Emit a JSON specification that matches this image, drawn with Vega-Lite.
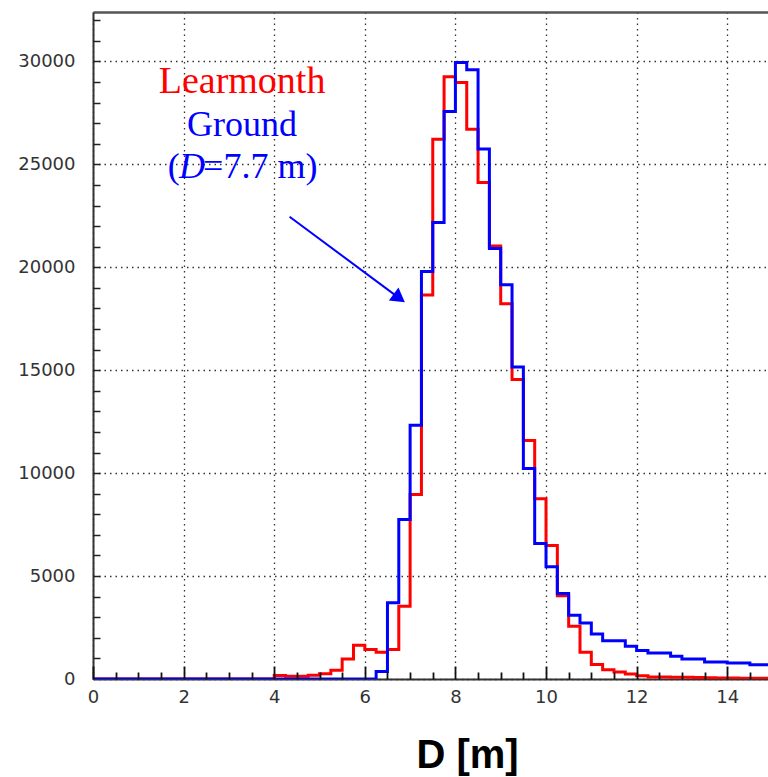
{
  "$schema": "https://vega.github.io/schema/vega-lite/v6.json",
  "width": 675,
  "height": 667,
  "autosize": {"type": "none"},
  "padding": {"left": 93, "top": 12, "right": 0, "bottom": 98},
  "background": "white",
  "config": {"view": {"stroke": null}},
  "datasets": {
    "hist": [
      {"D": 0.0, "Learmonth": 0, "Ground": 0},
      {"D": 0.25, "Learmonth": 0, "Ground": 0},
      {"D": 0.5, "Learmonth": 0, "Ground": 0},
      {"D": 0.75, "Learmonth": 0, "Ground": 0},
      {"D": 1.0, "Learmonth": 0, "Ground": 0},
      {"D": 1.25, "Learmonth": 0, "Ground": 0},
      {"D": 1.5, "Learmonth": 0, "Ground": 0},
      {"D": 1.75, "Learmonth": 0, "Ground": 0},
      {"D": 2.0, "Learmonth": 0, "Ground": 0},
      {"D": 2.25, "Learmonth": 0, "Ground": 0},
      {"D": 2.5, "Learmonth": 0, "Ground": 0},
      {"D": 2.75, "Learmonth": 0, "Ground": 0},
      {"D": 3.0, "Learmonth": 0, "Ground": 0},
      {"D": 3.25, "Learmonth": 0, "Ground": 0},
      {"D": 3.5, "Learmonth": 0, "Ground": 0},
      {"D": 3.75, "Learmonth": 0, "Ground": 0},
      {"D": 4.0, "Learmonth": 170, "Ground": 0},
      {"D": 4.25, "Learmonth": 130, "Ground": 0},
      {"D": 4.5, "Learmonth": 130, "Ground": 0},
      {"D": 4.75, "Learmonth": 180, "Ground": 0},
      {"D": 5.0, "Learmonth": 250, "Ground": 0},
      {"D": 5.25, "Learmonth": 420, "Ground": 0},
      {"D": 5.5, "Learmonth": 970, "Ground": 0},
      {"D": 5.75, "Learmonth": 1640, "Ground": 0},
      {"D": 6.0, "Learmonth": 1430, "Ground": 0},
      {"D": 6.25, "Learmonth": 1300, "Ground": 370},
      {"D": 6.5, "Learmonth": 1430, "Ground": 3700},
      {"D": 6.75, "Learmonth": 3530, "Ground": 7750},
      {"D": 7.0, "Learmonth": 8960, "Ground": 12330},
      {"D": 7.25, "Learmonth": 18650, "Ground": 19790},
      {"D": 7.5, "Learmonth": 26220, "Ground": 22170},
      {"D": 7.75, "Learmonth": 29250, "Ground": 27570},
      {"D": 8.0, "Learmonth": 28980, "Ground": 29950},
      {"D": 8.25, "Learmonth": 26710, "Ground": 29590},
      {"D": 8.5, "Learmonth": 24120, "Ground": 25740},
      {"D": 8.75, "Learmonth": 21030, "Ground": 20910},
      {"D": 9.0, "Learmonth": 18230, "Ground": 19150},
      {"D": 9.25, "Learmonth": 14550, "Ground": 15150},
      {"D": 9.5, "Learmonth": 11590, "Ground": 10230},
      {"D": 9.75, "Learmonth": 8750, "Ground": 6580},
      {"D": 10.0, "Learmonth": 6480, "Ground": 5450},
      {"D": 10.25, "Learmonth": 4050, "Ground": 4150},
      {"D": 10.5, "Learmonth": 2560, "Ground": 3100},
      {"D": 10.75, "Learmonth": 1300, "Ground": 2720},
      {"D": 11.0, "Learmonth": 700, "Ground": 2190},
      {"D": 11.25, "Learmonth": 450, "Ground": 1860},
      {"D": 11.5, "Learmonth": 340, "Ground": 1860},
      {"D": 11.75, "Learmonth": 240, "Ground": 1590},
      {"D": 12.0, "Learmonth": 160, "Ground": 1390},
      {"D": 12.25, "Learmonth": 100, "Ground": 1260},
      {"D": 12.5, "Learmonth": 100, "Ground": 1260},
      {"D": 12.75, "Learmonth": 90, "Ground": 1100},
      {"D": 13.0, "Learmonth": 80, "Ground": 970},
      {"D": 13.25, "Learmonth": 70, "Ground": 970},
      {"D": 13.5, "Learmonth": 60, "Ground": 825},
      {"D": 13.75, "Learmonth": 50, "Ground": 825},
      {"D": 14.0, "Learmonth": 50, "Ground": 775},
      {"D": 14.25, "Learmonth": 40, "Ground": 775},
      {"D": 14.5, "Learmonth": 40, "Ground": 695},
      {"D": 14.75, "Learmonth": 40, "Ground": 695},
      {"D": 15.0, "Learmonth": 40, "Ground": 695}
    ],
    "notes": [
      {"label": "Learmonth", "x": 3.29, "y": 28465},
      {"label": "Ground", "x": 3.29, "y": 26390},
      {"label": "(", "x": 1.65, "y": 24336},
      {"label": "D", "x": 1.9, "y": 24336},
      {"label": "=7.7 m)", "x": 2.43, "y": 24336}
    ],
    "arrow": [
      {"x": 4.34, "y": 22456, "x2": 6.76, "y2": 18500, "tx": 6.76, "ty": 18500}
    ]
  },
  "layer": [
    {
      "data": {"name": "hist"},
      "mark": {"type": "line", "interpolate": "step-after", "color": "#ff0000", "strokeWidth": 3, "clip": true},
      "encoding": {
        "x": {
          "field": "D", "type": "quantitative",
          "scale": {"domain": [0, 14.9], "nice": false, "zero": false},
          "axis": {
            "orient": "bottom",
            "values": [0, 2, 4, 6, 8, 10, 12, 14],
            "grid": true, "gridDash": [1.5, 4], "gridColor": "#333", "gridWidth": 1.3,
            "ticks": false,
            "labelFont": "DejaVu Sans", "labelFontSize": 18, "labelColor": "#333",
            "labelPadding": 9, "labelBaseline": "top", "labelFlush": false,
            "domain": true, "domainColor": "#333", "domainWidth": 2,
            "title": "D [m]", "titleFont": "Liberation Sans", "titleFontSize": 40,
            "titleFontWeight": "bold", "titleColor": "#000",
            "titleX": 374, "titleY": 88, "titleBaseline": "alphabetic", "titleAlign": "center", "titleAnchor": null
          }
        },
        "y": {
          "field": "Learmonth", "type": "quantitative",
          "scale": {"domain": [0, 32400], "nice": false},
          "axis": {
            "orient": "left",
            "values": [0, 5000, 10000, 15000, 20000, 25000, 30000],
            "format": "d",
            "grid": true, "gridDash": [1.5, 4], "gridColor": "#333", "gridWidth": 1.3,
            "ticks": false,
            "labelFont": "DejaVu Sans", "labelFontSize": 18, "labelColor": "#333",
            "labelPadding": 18, "labelFlush": false,
            "domain": true, "domainColor": "#333", "domainWidth": 2, "title": null
          }
        }
      }
    },
    {
      "data": {"name": "hist"},
      "mark": {"type": "line", "interpolate": "step-after", "color": "#0000ff", "strokeWidth": 3, "clip": true},
      "encoding": {
        "x": {
          "field": "D", "type": "quantitative",
          "axis": {
            "orient": "bottom", "offset": -7, "zindex": 1,
            "values": [0.5, 1, 1.5, 2.5, 3, 3.5, 4.5, 5, 5.5, 6.5, 7, 7.5, 8.5, 9, 9.5, 10.5, 11, 11.5, 12.5, 13, 13.5, 14.5],
            "grid": false, "labels": false, "domain": false,
            "ticks": true, "tickSize": 7, "tickColor": "#111", "tickWidth": 1.8,
            "title": null
          }
        },
        "y": {
          "field": "Ground", "type": "quantitative",
          "axis": {
            "orient": "right", "offset": -675,
            "values": [1000, 2000, 3000, 4000, 5000, 6000, 7000, 8000, 9000, 10000, 11000, 12000, 13000, 14000, 15000, 16000, 17000, 18000, 19000, 20000, 21000, 22000, 23000, 24000, 25000, 26000, 27000, 28000, 29000, 30000, 31000, 32000],
            "grid": false, "labels": false,
            "ticks": true, "tickSize": 7, "tickColor": "#222", "tickWidth": 1.5,
            "domain": false,
            "title": null
          }
        }
      }
    },
    {
      "data": {"name": "notes"},
      "transform": [{"filter": "datum.label === 'Learmonth'"}],
      "mark": {"type": "text", "font": "Liberation Serif", "fontSize": 38, "color": "#ff0000", "align": "center", "baseline": "alphabetic"},
      "encoding": {
        "x": {"field": "x", "type": "quantitative",
          "axis": {"orient": "top", "domain": true, "domainColor": "#555", "domainWidth": 2.5, "ticks": false, "labels": false, "grid": false, "title": null}},
        "y": {"field": "y", "type": "quantitative", "axis": null},
        "text": {"field": "label"}
      }
    },
    {
      "data": {"name": "notes"},
      "transform": [{"filter": "datum.label === 'Ground'"}],
      "mark": {"type": "text", "font": "Liberation Serif", "fontSize": 36, "color": "#0000ff", "align": "center", "baseline": "alphabetic"},
      "encoding": {
        "x": {"field": "x", "type": "quantitative",
          "axis": {
            "orient": "bottom", "offset": -13, "zindex": 1,
            "values": [0, 2, 4, 6, 8, 10, 12, 14],
            "grid": false, "labels": false, "domain": false,
            "ticks": true, "tickSize": 13, "tickColor": "#111", "tickWidth": 1.8,
            "title": null
          }},
        "y": {"field": "y", "type": "quantitative", "axis": null},
        "text": {"field": "label"}
      }
    },
    {
      "data": {"name": "notes"},
      "transform": [{"filter": "datum.label === '(' || datum.label === '=7.7 m)'"}],
      "mark": {"type": "text", "font": "Liberation Serif", "fontSize": 36, "color": "#0000ff", "align": "left", "baseline": "alphabetic"},
      "encoding": {
        "x": {"field": "x", "type": "quantitative", "axis": null},
        "y": {"field": "y", "type": "quantitative", "axis": null},
        "text": {"field": "label"}
      }
    },
    {
      "data": {"name": "notes"},
      "transform": [{"filter": "datum.label === 'D'"}],
      "mark": {"type": "text", "font": "Liberation Serif", "fontSize": 36, "fontStyle": "italic", "color": "#0000ff", "align": "left", "baseline": "alphabetic"},
      "encoding": {
        "x": {"field": "x", "type": "quantitative", "axis": null},
        "y": {"field": "y", "type": "quantitative", "axis": null},
        "text": {"field": "label"}
      }
    },
    {
      "data": {"name": "arrow"},
      "mark": {"type": "rule", "color": "#0000ff", "strokeWidth": 2},
      "encoding": {
        "x": {"field": "x", "type": "quantitative", "axis": null},
        "y": {"field": "y", "type": "quantitative", "axis": null},
        "x2": {"field": "x2"},
        "y2": {"field": "y2"}
      }
    },
    {
      "data": {"name": "arrow"},
      "mark": {"type": "point", "shape": "triangle-right", "filled": true, "color": "#0000ff", "opacity": 1, "size": 260, "angle": 36.7},
      "encoding": {
        "x": {"field": "tx", "type": "quantitative", "axis": null},
        "y": {"field": "ty", "type": "quantitative", "axis": null}
      }
    }
  ],
  "resolve": {"axis": {"x": "independent", "y": "independent"}}
}
